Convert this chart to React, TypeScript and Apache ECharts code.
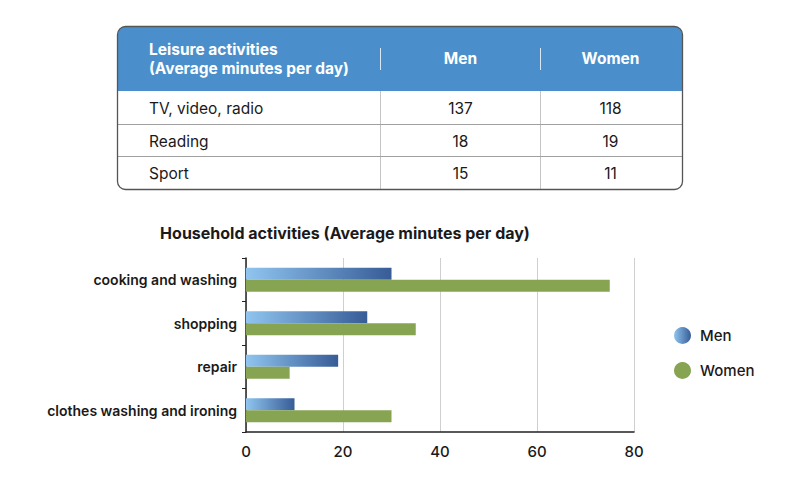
import React, { useEffect, useRef } from "react";
import * as echarts from "echarts";

const categories = ["cooking and washing", "shopping", "repair", "clothes washing and ironing"];
const menValues = [30, 25, 19, 10];
const womenValues = [75, 35, 9, 30];
const xTicks = { min: 0, max: 80, interval: 20 };

const tableHeader = ["Men", "Women"];
const tableTitle = ["Leisure activities", "(Average minutes per day)"];
const tableRows = ["TV, video, radio", "Reading", "Sport"];
const tableMen = [137, 18, 15];
const tableWomen = [118, 19, 11];

const FONT = "Inter, 'Noto Sans', sans-serif";

export default function App() {
  const ref = useRef<HTMLDivElement>(null);
  useEffect(() => {
    if (!ref.current) return;
    const chart = echarts.init(ref.current, undefined, { renderer: "svg" });

    const tx = (text: string, x: number, y: number, opts: any = {}) => ({
      type: "text",
      x,
      y,
      silent: true,
      z: 10,
      style: {
        text,
        fill: opts.fill || "#1a1a1a",
        font: opts.font || `400 15.5px ${FONT}`,
        textAlign: opts.align || "left",
        align: opts.align || "left",
        textVerticalAlign: "middle",
        verticalAlign: "middle",
      },
    });

    const L = 117.5, R = 682.5, T = 26.5, B = 189.5, HB = 91;
    const c1 = 380.5, c2 = 540.5;
    const rowY = [108, 141, 173];
    const rowLines = [124.5, 156.5];

    const graphics: any[] = [
      { type: "rect", shape: { x: L, y: T, width: R - L, height: B - T, r: 8 }, style: { fill: "#fff" }, z: 1 },
      { type: "rect", shape: { x: L, y: T, width: R - L, height: HB - T, r: [8, 8, 0, 0] }, style: { fill: "#4a8fcb" }, z: 2 },
      { type: "line", shape: { x1: c1, y1: 48, x2: c1, y2: 70 }, style: { stroke: "#d6e6f4", lineWidth: 1 }, z: 3 },
      { type: "line", shape: { x1: c2, y1: 48, x2: c2, y2: 70 }, style: { stroke: "#d6e6f4", lineWidth: 1 }, z: 3 },
      { type: "line", shape: { x1: c1, y1: HB, x2: c1, y2: B }, style: { stroke: "#c4c4c4", lineWidth: 1 }, z: 3 },
      { type: "line", shape: { x1: c2, y1: HB, x2: c2, y2: B }, style: { stroke: "#c4c4c4", lineWidth: 1 }, z: 3 },
      ...rowLines.map((y) => ({ type: "line", shape: { x1: L, y1: y, x2: R, y2: y }, style: { stroke: "#a0a0a0", lineWidth: 1 }, z: 3 })),
      { type: "rect", shape: { x: L, y: T, width: R - L, height: B - T, r: 8 }, style: { fill: "none", stroke: "#555", lineWidth: 1.3 }, z: 4 },
      tx(tableTitle[0], 149, 49, { fill: "#fff", font: `700 15.5px ${FONT}` }),
      tx(tableTitle[1], 149, 68, { fill: "#fff", font: `700 15.5px ${FONT}` }),
      tx(tableHeader[0], 460.5, 58, { fill: "#fff", font: `700 15.5px ${FONT}`, align: "center" }),
      tx(tableHeader[1], 610.5, 58, { fill: "#fff", font: `700 15.5px ${FONT}`, align: "center" }),
      ...tableRows.map((r, i) => tx(r, 149, rowY[i])),
      ...tableMen.map((v, i) => tx(String(v), 460.5, rowY[i], { align: "center" })),
      ...tableWomen.map((v, i) => tx(String(v), 610.5, rowY[i], { align: "center" })),
      tx("Household activities (Average minutes per day)", 345, 233, { font: `700 16px ${FONT}`, align: "center" }),
    ];

    const menGradient = new echarts.graphic.LinearGradient(0, 0, 1, 0, [
      { offset: 0, color: "#90c5ef" },
      { offset: 1, color: "#375c97" },
    ]);

    chart.setOption({
      animation: false,
      textStyle: { fontFamily: FONT },
      grid: { left: 246, right: 166, top: 258, bottom: 66, containLabel: false },
      xAxis: {
        type: "value",
        min: xTicks.min,
        max: xTicks.max,
        interval: xTicks.interval,
        axisLine: { show: true, lineStyle: { color: "#222", width: 1.5 } },
        axisTick: { show: false },
        splitLine: { show: true, lineStyle: { color: "#cfcfcf", width: 1 } },
        axisLabel: { color: "#1a1a1a", fontSize: 15, fontWeight: 500, margin: 12 },
      },
      yAxis: {
        type: "category",
        data: categories,
        inverse: true,
        axisLine: { show: true, lineStyle: { color: "#222", width: 1.5 } },
        axisTick: { show: true, length: 4, lineStyle: { color: "#222" } },
        axisLabel: { color: "#1a1a1a", fontSize: 14, fontWeight: 600, margin: 9 },
      },
      legend: {
        orient: "vertical",
        left: 669,
        top: 322,
        icon: "circle",
        itemWidth: 17,
        itemHeight: 17,
        itemGap: 18,
        textStyle: { color: "#1a1a1a", fontSize: 15, fontWeight: 500, padding: [0, 0, 0, 4] },
        data: ["Men", "Women"],
      },
      series: [
        {
          name: "Men",
          type: "bar",
          data: menValues,
          barWidth: 12,
          barGap: "0%",
          itemStyle: { color: menGradient },
        },
        {
          name: "Women",
          type: "bar",
          data: womenValues,
          barWidth: 12,
          barGap: "0%",
          itemStyle: { color: "#86a452" },
        },
      ],
      graphic: graphics,
    });

    return () => chart.dispose();
  }, []);

  return (
    <div
      ref={ref}
      style={{ position: "fixed", left: 0, top: 0, width: 800, height: 498, background: "#fff" }}
    />
  );
}
